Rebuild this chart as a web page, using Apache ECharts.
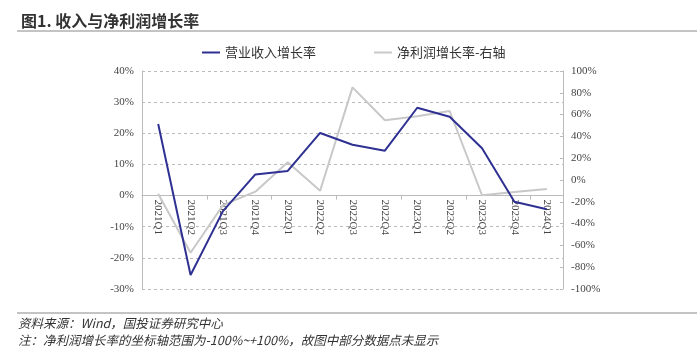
<!DOCTYPE html>
<html>
<head>
<meta charset="utf-8">
<script src="https://cdn.jsdelivr.net/npm/echarts@6/dist/echarts.min.js"></script>
<style>
  html, body { margin: 0; padding: 0; background: #fff; }
  #chart { width: 700px; height: 351px; }
</style>
</head>
<body>
<div id="chart"></div>
<script>
// 季度
const quarters = ['2021Q1', '2021Q2', '2021Q3', '2021Q4', '2022Q1', '2022Q2', '2022Q3',
  '2022Q4', '2023Q1', '2023Q2', '2023Q3', '2023Q4', '2024Q1']
// 营业收入增长率（左轴，%）
const revenueGrowth = [23, -25.5, -5, 6.8, 7.9, 20.1, 16.3, 14.4, 28.2, 25.3, 15.2, -2, -4.4]
// 净利润增长率（右轴，%）
const profitGrowth = [-12.6, -66.7, -23, -10.7, 16.2, -9.8, 85, 54.8, 58.5, 63.3, -14, -11, -8.3]

const leftMin = -30
const leftMax = 40
const gridTop = 71
const gridBottom = 62
const gridHeight = 351 - gridTop - gridBottom

const labelFont = '"Liberation Serif", "DejaVu Serif", serif'
const cjkFont = '"Noto Sans CJK SC", sans-serif'

// 横轴放在左轴 0% 处，标签紧贴横轴
const zeroOffset = gridHeight * (0 - leftMin) / (leftMax - leftMin)

const chart = echarts.init(document.getElementById('chart'))
chart.setOption({
  animation: false,
  title: {
    text: '图1. 收入与净利润增长率',
    left: 16,
    top: 8,
    textStyle: { fontFamily: cjkFont, fontSize: 16, fontWeight: 'bold', color: '#333' }
  },
  legend: {
    top: 41,
    left: 197,
    itemGap: 58,
    itemWidth: 18,
    itemHeight: 2,
    icon: 'rect',
    textStyle: { fontFamily: cjkFont, fontSize: 13, color: '#333' },
    data: ['营业收入增长率', '净利润增长率-右轴']
  },
  grid: { left: 142, right: 137, top: gridTop, bottom: gridBottom },
  xAxis: {
    type: 'category',
    data: quarters,
    position: 'bottom',
    offset: -zeroOffset,
    axisLine: { onZero: false, lineStyle: { color: '#bbb' } },
    axisTick: { show: true, interval: 1, length: 4, lineStyle: { color: '#bbb' } },
    axisLabel: { interval: 0, rotate: -90, fontFamily: labelFont, fontSize: 11, color: '#444', margin: 4 }
  },
  yAxis: [
    {
      type: 'value',
      min: leftMin,
      max: leftMax,
      interval: 10,
      axisLine: { show: true, lineStyle: { color: '#bbb' } },
      axisTick: { show: false },
      axisLabel: { formatter: '{value}%', fontFamily: labelFont, fontSize: 11, color: '#444', margin: 8 },
      splitLine: { lineStyle: { color: '#bbb', type: [3, 3] } }
    },
    {
      type: 'value',
      min: -100,
      max: 100,
      interval: 20,
      axisLine: { show: true, lineStyle: { color: '#bbb' } },
      axisTick: { show: true, inside: true, length: 3, lineStyle: { color: '#bbb' } },
      axisLabel: { formatter: '{value}%', fontFamily: labelFont, fontSize: 11, color: '#444', margin: 8 },
      splitLine: { show: false }
    }
  ],
  series: [
    {
      name: '营业收入增长率',
      type: 'line',
      yAxisIndex: 0,
      data: revenueGrowth,
      symbol: 'none',
      z: 3,
      itemStyle: { color: '#2e3192' },
      lineStyle: { color: '#2e3192', width: 2 }
    },
    {
      name: '净利润增长率-右轴',
      type: 'line',
      yAxisIndex: 1,
      data: profitGrowth,
      symbol: 'none',
      z: 2,
      itemStyle: { color: '#c8c8c8' },
      lineStyle: { color: '#c8c8c8', width: 2 }
    }
  ],
  graphic: [
    { type: 'line', shape: { x1: 17, y1: 31, x2: 697, y2: 31 }, style: { stroke: '#888', lineWidth: 1 } },
    { type: 'line', shape: { x1: 17, y1: 313, x2: 697, y2: 313 }, style: { stroke: '#888', lineWidth: 1 } },
    {
      type: 'text', left: 18, top: 317,
      style: { text: '资料来源：Wind，国投证券研究中心', font: 'italic 12.5px ' + cjkFont, fill: '#333' }
    },
    {
      type: 'text', left: 18, top: 334,
      style: { text: '注：净利润增长率的坐标轴范围为-100%~+100%，故图中部分数据点未显示', font: 'italic 12.5px ' + cjkFont, fill: '#333' }
    }
  ]
})
</script>
</body>
</html>
